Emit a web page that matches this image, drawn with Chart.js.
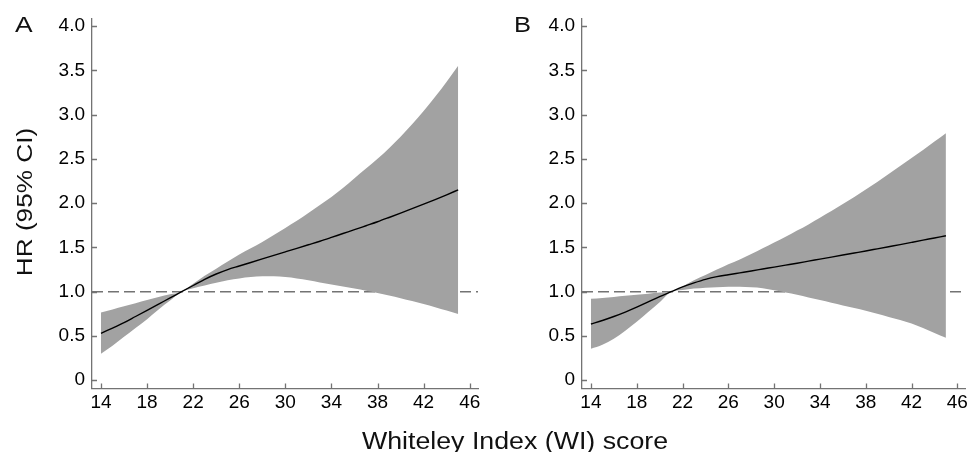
<!DOCTYPE html>
<html>
<head>
<meta charset="utf-8">
<script src="https://cdn.jsdelivr.net/npm/chart.js@4.4.1/dist/chart.umd.min.js"></script>
<style>
  html, body { margin:0; padding:0; background:#fff; overflow:hidden; }
  #wrap { position:relative; width:971px; height:452px; background:#fff; font-family:"Liberation Sans", Arial, sans-serif; color:#111; }
  .panel { position:absolute; top:0; height:452px; }
  .lbl { position:absolute; white-space:nowrap; line-height:1; }
</style>
</head>
<body>
<div id="wrap">
  <div class="panel" style="left:0;width:490px;"><canvas id="cA"></canvas></div>
  <div class="panel" style="left:490px;width:481px;"><canvas id="cB"></canvas></div>
  <div class="lbl" style="left:15px;top:14px;font-size:22px;transform-origin:0 0;transform:scaleX(1.2);">A</div>
  <div class="lbl" style="left:514px;top:14px;font-size:22px;transform-origin:0 0;transform:scaleX(1.16);">B</div>
  <div class="lbl" style="left:25px;top:202px;font-size:22px;transform:translate(-50%,-50%) rotate(-90deg) scaleX(1.19);">HR (95% CI)</div>
  <div class="lbl" style="left:515px;top:429.5px;font-size:23px;transform:translateX(-50%) scaleX(1.163);">Whiteley Index (WI) score</div>
</div>
<script>
// ---- data ----
const wiScore = [14,15,16,17,18,19,20,21,22,23,24,25,26,27,28,29,30,31,32,33,34,35,36,37,38,39,40,41,42,43,44,45];

const hrA    = [0.53,0.59,0.65,0.72,0.79,0.86,0.93,1.00,1.07,1.14,1.20,1.25,1.29,1.33,1.37,1.41,1.45,1.49,1.53,1.57,1.613,1.657,1.70,1.745,1.79,1.838,1.887,1.937,1.988,2.04,2.094,2.15];
const upperA = [0.765,0.80,0.835,0.87,0.905,0.94,0.97,1.00,1.09,1.18,1.26,1.34,1.42,1.49,1.56,1.64,1.72,1.80,1.89,1.98,2.07,2.17,2.28,2.39,2.50,2.62,2.75,2.89,3.04,3.20,3.37,3.55];
const lowerA = [0.30,0.39,0.49,0.59,0.69,0.80,0.90,1.00,1.04,1.07,1.10,1.13,1.15,1.165,1.175,1.175,1.165,1.15,1.13,1.105,1.08,1.058,1.035,1.01,0.985,0.957,0.927,0.895,0.861,0.825,0.787,0.747];

const hrB    = [0.635,0.675,0.72,0.77,0.825,0.885,0.945,1.00,1.055,1.10,1.14,1.17,1.192,1.213,1.234,1.256,1.278,1.30,1.322,1.345,1.368,1.391,1.414,1.437,1.46,1.484,1.508,1.532,1.557,1.582,1.607,1.632];
const upperB = [0.92,0.93,0.94,0.953,0.965,0.977,0.99,1.00,1.06,1.13,1.19,1.25,1.31,1.365,1.425,1.49,1.555,1.62,1.69,1.76,1.835,1.91,1.99,2.07,2.155,2.24,2.33,2.42,2.51,2.60,2.695,2.79];
const lowerB = [0.355,0.40,0.47,0.56,0.66,0.77,0.88,1.00,1.02,1.035,1.045,1.05,1.055,1.055,1.05,1.04,1.015,0.99,0.965,0.935,0.905,0.875,0.845,0.815,0.785,0.75,0.715,0.68,0.64,0.59,0.535,0.48];

const xTicks = [14,18,22,26,30,34,38,42,46];
const yTicks = [0,0.5,1.0,1.5,2.0,2.5,3.0,3.5,4.0];
const refLine = 1.0;
const xRange = [13.22, 46.72];
const yRange = [-0.093, 4.086];

// ---- styling ----
const AXIS = '#737373';
const BAND = '#a2a2a2';
const FONT = '"Liberation Sans", Arial, sans-serif';

const pts = (ys) => wiScore.map((x,i) => ({x, y: ys[i]}));

const decor = {
  id: 'decor',
  beforeDatasetsDraw(chart) {
    const {ctx, chartArea, scales} = chart;
    const y = scales.y.getPixelForValue(refLine);
    ctx.save();
    ctx.strokeStyle = AXIS;
    ctx.lineWidth = 1.5;
    ctx.setLineDash([11,5]);
    ctx.beginPath();
    ctx.moveTo(chartArea.left, y);
    ctx.lineTo(chartArea.right, y);
    ctx.stroke();
    ctx.restore();
  },
  afterDraw(chart) {
    const {ctx, chartArea, scales} = chart;
    ctx.save();
    ctx.strokeStyle = AXIS;
    ctx.lineWidth = 1.3;
    ctx.beginPath();
    yTicks.forEach(v => {
      const y = Math.round(scales.y.getPixelForValue(v)) + 0.5;
      ctx.moveTo(chartArea.left, y); ctx.lineTo(chartArea.left + 5, y);
    });
    xTicks.forEach(v => {
      const x = Math.round(scales.x.getPixelForValue(v)) + 0.5;
      ctx.moveTo(x, chartArea.bottom); ctx.lineTo(x, chartArea.bottom - 5);
    });
    ctx.stroke();
    ctx.restore();
  }
};

function makeChart(id, hr, up, lo, rightPad) {
  return new Chart(document.getElementById(id), {
    type: 'line',
    data: {
      datasets: [
        { data: pts(hr), borderColor: '#000', borderWidth: 1.4, pointRadius: 0, fill: false, cubicInterpolationMode: 'monotone', order: 0 },
        { data: pts(up), borderWidth: 0, borderColor: 'rgba(0,0,0,0)', backgroundColor: BAND, pointRadius: 0, fill: '+1', cubicInterpolationMode: 'monotone', order: 1 },
        { data: pts(lo), borderWidth: 0, borderColor: 'rgba(0,0,0,0)', backgroundColor: BAND, pointRadius: 0, fill: false, cubicInterpolationMode: 'monotone', order: 2 }
      ]
    },
    options: {
      responsive: true,
      maintainAspectRatio: false,
      animation: false,
      events: [],
      layout: { padding: { top: 15, right: rightPad, bottom: 0, left: 0 } },
      plugins: { legend: { display: false }, tooltip: { enabled: false }, title: { display: false } },
      scales: {
        x: {
          type: 'linear',
          min: xRange[0], max: xRange[1],
          afterBuildTicks: (s) => { s.ticks = xTicks.map(v => ({value: v})); },
          afterFit: (s) => { s.height = 63.5; },
          grid: { display: false, drawTicks: false },
          border: { display: true, color: AXIS, width: 1.3 },
          ticks: { padding: 3, color: '#000', font: { family: FONT, size: 19 }, maxRotation: 0, autoSkip: false, callback: (v) => String(v) }
        },
        y: {
          type: 'linear',
          min: yRange[0], max: yRange[1],
          afterBuildTicks: (s) => { s.ticks = yTicks.map(v => ({value: v})); },
          afterFit: (s) => { s.width = 92; },
          grid: { display: false, drawTicks: false },
          border: { display: true, color: AXIS, width: 1.3 },
          ticks: { padding: 7, color: '#000', font: { family: FONT, size: 19 }, autoSkip: false, callback: (v) => v === 0 ? '0' : Number(v).toFixed(1) }
        }
      }
    },
    plugins: [decor]
  });
}

makeChart('cA', hrA, upperA, lowerA, 12);
makeChart('cB', hrB, upperB, lowerB, 3);
</script>
</body>
</html>
